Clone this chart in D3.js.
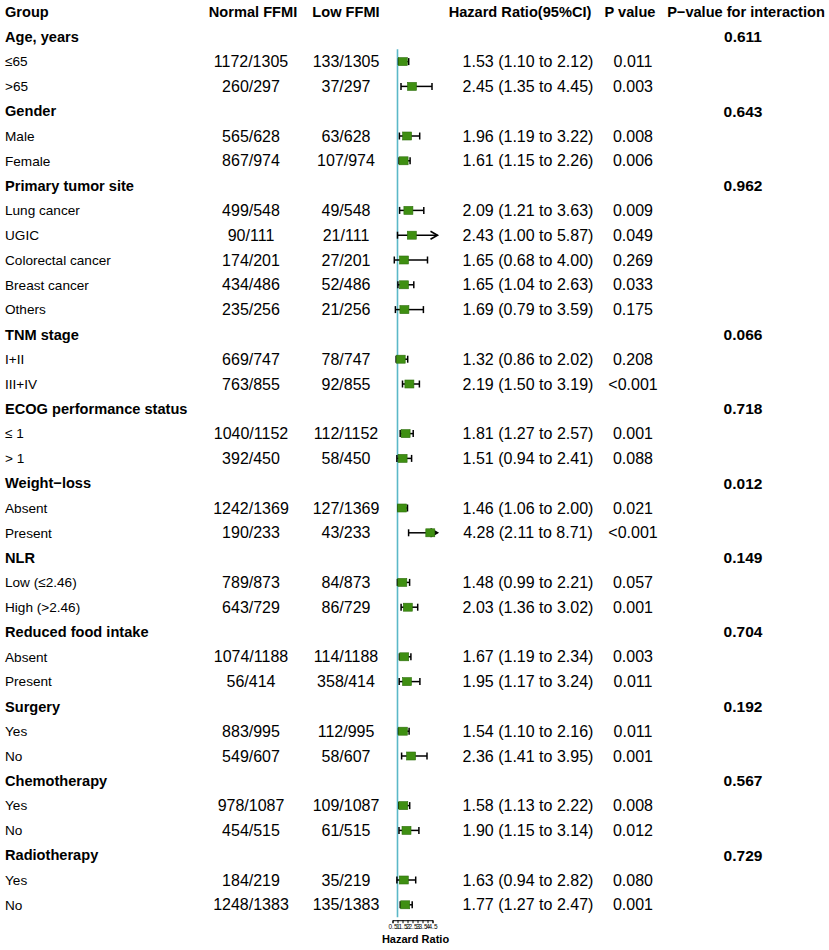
<!DOCTYPE html>
<html>
<head>
<meta charset="utf-8">
<script src="https://cdn.jsdelivr.net/npm/d3@7"></script>
<style>
  html, body { margin: 0; padding: 0; background: #fff; }
  svg { display: block; font-family: "Liberation Sans", Arial, Helvetica, sans-serif; }
</style>
</head>
<body>
<svg id="chart" width="829" height="950"></svg>
<script>
// ---------------- DATA ----------------
const groupNames = ["Age, years", "Gender", "Primary tumor site", "TNM stage",
  "ECOG performance status", "Weight\u2212loss", "NLR", "Reduced food intake",
  "Surgery", "Chemotherapy", "Radiotherapy"];
const groupPInteraction = ["0.611", "0.643", "0.962", "0.066", "0.718", "0.012",
  "0.149", "0.704", "0.192", "0.567", "0.729"];
const subgroupCounts = [2, 2, 5, 2, 2, 2, 2, 2, 2, 2, 2];

const subLabels = ["\u226465", ">65", "Male", "Female", "Lung cancer", "UGIC",
  "Colorectal cancer", "Breast cancer", "Others", "I+II", "III+IV", "\u2264 1", "> 1",
  "Absent", "Present", "Low (\u22642.46)", "High (>2.46)", "Absent", "Present",
  "Yes", "No", "Yes", "No", "Yes", "No"];
const normalFFMI = ["1172/1305", "260/297", "565/628", "867/974", "499/548", "90/111",
  "174/201", "434/486", "235/256", "669/747", "763/855", "1040/1152", "392/450",
  "1242/1369", "190/233", "789/873", "643/729", "1074/1188", "56/414",
  "883/995", "549/607", "978/1087", "454/515", "184/219", "1248/1383"];
const lowFFMI = ["133/1305", "37/297", "63/628", "107/974", "49/548", "21/111",
  "27/201", "52/486", "21/256", "78/747", "92/855", "112/1152", "58/450",
  "127/1369", "43/233", "84/873", "86/729", "114/1188", "358/414",
  "112/995", "58/607", "109/1087", "61/515", "35/219", "135/1383"];
const hazardRatio = [1.53, 2.45, 1.96, 1.61, 2.09, 2.43, 1.65, 1.65, 1.69, 1.32, 2.19,
  1.81, 1.51, 1.46, 4.28, 1.48, 2.03, 1.67, 1.95, 1.54, 2.36, 1.58, 1.90, 1.63, 1.77];
const ciLower = [1.10, 1.35, 1.19, 1.15, 1.21, 1.00, 0.68, 1.04, 0.79, 0.86, 1.50,
  1.27, 0.94, 1.06, 2.11, 0.99, 1.36, 1.19, 1.17, 1.10, 1.41, 1.13, 1.15, 0.94, 1.27];
const ciUpper = [2.12, 4.45, 3.22, 2.26, 3.63, 5.87, 4.00, 2.63, 3.59, 2.02, 3.19,
  2.57, 2.41, 2.00, 8.71, 2.21, 3.02, 2.34, 3.24, 2.16, 3.95, 2.22, 3.14, 2.82, 2.47];
const pValues = ["0.011", "0.003", "0.008", "0.006", "0.009", "0.049", "0.269", "0.033",
  "0.175", "0.208", "<0.001", "0.001", "0.088", "0.021", "<0.001", "0.057", "0.001",
  "0.003", "0.011", "0.011", "0.001", "0.008", "0.012", "0.080", "0.001"];

const headerLabels = ["Group", "Normal FFMI", "Low FFMI", "Hazard Ratio(95%CI)", "P value", "P\u2212value for interaction"];
const axisTicks = [0.5, 1, 1.5, 2, 2.5, 3, 3.5, 4, 4.5];
const axisTitle = "Hazard Ratio";
const refValue = 1;
const clipMax = 5;

// ---------------- BUILD ROWS ----------------
const rows = [];
let k = 0;
groupNames.forEach((g, gi) => {
  rows.push({ type: "group", label: g, pint: groupPInteraction[gi] });
  for (let j = 0; j < subgroupCounts[gi]; j++, k++) {
    rows.push({
      type: "sub", label: subLabels[k], normal: normalFFMI[k], low: lowFFMI[k],
      hr: hazardRatio[k], lo: ciLower[k], hi: ciUpper[k], p: pValues[k]
    });
  }
});

// ---------------- LAYOUT ----------------
const svg = d3.select("#chart");
const nRows = rows.length; // 36
const rowH = 24.8;
const y = d3.scaleLinear().domain([0, nRows]).range([12, 12 + nRows * rowH]);
const x = d3.scaleLinear().domain([0.5, 4.5]).range([392.5, 432.5]);

const col = { group: 5, normal: 251, low: 346, hr: 528, p: 633, pint: 743 };
const fsNum = 16, fsHead = 14.6, fsLabel = 13.6, fsPint = 15.5;

// Header
const hdr = svg.append("g").attr("font-weight", "bold").attr("font-size", fsHead).attr("fill", "#000");
const hx = [col.group, 253, 346, 520, 630, 746];
const ha = ["start", "middle", "middle", "middle", "middle", "middle"];
headerLabels.forEach((t, i) => {
  hdr.append("text").attr("x", hx[i]).attr("y", y(0)).attr("dy", "0.35em")
    .attr("text-anchor", ha[i]).text(t);
});

// Rows
const rowG = svg.append("g").attr("fill", "#000");
rows.forEach((r, i) => {
  const yy = y(i + 1);
  if (r.type === "group") {
    rowG.append("text").attr("x", col.group).attr("y", yy).attr("dy", "0.35em")
      .attr("font-weight", "bold").attr("font-size", fsHead).text(r.label);
    rowG.append("text").attr("x", col.pint).attr("y", yy).attr("dy", "0.35em")
      .attr("text-anchor", "middle").attr("font-weight", "bold").attr("font-size", fsPint).text(r.pint);
  } else {
    rowG.append("text").attr("x", col.group).attr("y", yy).attr("dy", "0.35em")
      .attr("font-size", fsLabel).text(r.label);
    rowG.append("text").attr("x", col.normal).attr("y", yy).attr("dy", "0.35em")
      .attr("text-anchor", "middle").attr("font-size", fsNum).text(r.normal);
    rowG.append("text").attr("x", col.low).attr("y", yy).attr("dy", "0.35em")
      .attr("text-anchor", "middle").attr("font-size", fsNum).text(r.low);
    rowG.append("text").attr("x", col.hr).attr("y", yy).attr("dy", "0.35em")
      .attr("text-anchor", "middle").attr("font-size", fsNum)
      .text(`${r.hr.toFixed(2)} (${r.lo.toFixed(2)} to ${r.hi.toFixed(2)})`);
    rowG.append("text").attr("x", col.p).attr("y", yy).attr("dy", "0.35em")
      .attr("text-anchor", "middle").attr("font-size", fsNum).text(r.p);
  }
});

// Reference line
const firstData = 2, lastData = nRows;
svg.append("line")
  .attr("x1", x(refValue)).attr("x2", x(refValue))
  .attr("y1", y(firstData) - rowH / 2).attr("y2", y(lastData) + rowH / 2)
  .attr("stroke", "#5bb8c8").attr("stroke-width", 1.6);

// CI lines + boxes
const plotG = svg.append("g");
rows.forEach((r, i) => {
  if (r.type !== "sub") return;
  const yy = y(i + 1);
  const clipped = r.hi > clipMax;
  const x1 = x(r.lo), x2 = x(Math.min(r.hi, clipMax));
  plotG.append("line").attr("x1", x1).attr("x2", x2).attr("y1", yy).attr("y2", yy)
    .attr("stroke", "#000").attr("stroke-width", 1.5);
  plotG.append("line").attr("x1", x1).attr("x2", x1).attr("y1", yy - 3.5).attr("y2", yy + 3.5)
    .attr("stroke", "#000").attr("stroke-width", 1.5);
  if (clipped) {
    plotG.append("path")
      .attr("d", `M${x2 - 7},${yy - 4} L${x2},${yy} L${x2 - 7},${yy + 4}`)
      .attr("fill", "none").attr("stroke", "#000").attr("stroke-width", 1.6);
  } else {
    plotG.append("line").attr("x1", x2).attr("x2", x2).attr("y1", yy - 3.5).attr("y2", yy + 3.5)
      .attr("stroke", "#000").attr("stroke-width", 1.5);
  }
  plotG.append("rect")
    .attr("x", x(r.hr) - 4.5).attr("y", yy - 4).attr("width", 9).attr("height", 8)
    .attr("fill", "#3f8f12").attr("stroke", "#2c6e0a").attr("stroke-width", 0.6);
});

// Axis
const axisY = y(lastData) + rowH / 2 + 3;
const axisG = svg.append("g").attr("transform", `translate(0,${axisY})`)
  .call(d3.axisBottom(x).tickValues(axisTicks).tickSize(3).tickPadding(1)
    .tickFormat(d => String(d)));
axisG.select(".domain").attr("stroke", "#000").attr("stroke-width", 1);
axisG.selectAll(".tick line").attr("stroke", "#000");
axisG.selectAll(".tick text").attr("font-size", 6.5).attr("fill", "#000")
  .attr("font-family", "Liberation Sans, Arial, sans-serif");
svg.append("text").attr("x", (x(0.5) + x(4.5)) / 2 + 3).attr("y", axisY + 23)
  .attr("text-anchor", "middle").attr("font-weight", "bold").attr("font-size", 11)
  .text(axisTitle);
</script>
</body>
</html>
